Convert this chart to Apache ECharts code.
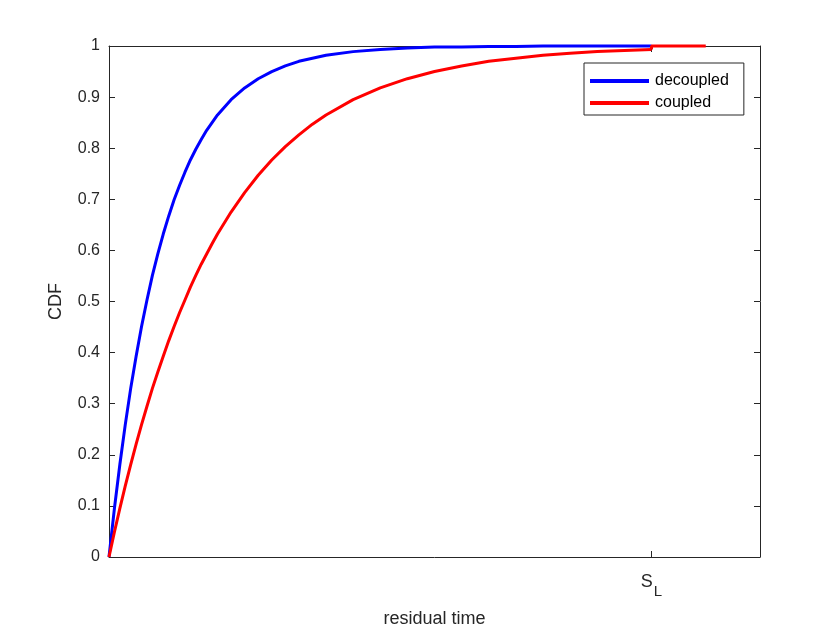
<!DOCTYPE html>
<html>
<head>
<meta charset="utf-8">
<script src="https://cdn.jsdelivr.net/npm/echarts@6/dist/echarts.min.js"></script>
<style>
  html, body { margin: 0; padding: 0; background: #fff; }
  #chart { width: 840px; height: 630px; }
</style>
</head>
<body>
<div id="chart"></div>
<script>
// residual time samples (S_L = 10 on this scale, axis ends at 12)
const tiempos = [0, 0.1, 0.2, 0.3, 0.4, 0.5, 0.6, 0.7, 0.8, 0.9, 1, 1.1, 1.2, 1.3, 1.4, 1.5, 1.6, 1.7, 1.8, 1.9, 2,
  2.25, 2.5, 2.75, 3, 3.25, 3.5, 3.75, 4, 4.5, 5, 5.5, 6, 6.5, 7, 7.5, 8, 8.5, 9, 9.5, 10];
const decoupled = [0, 0.095, 0.181, 0.259, 0.33, 0.393, 0.451, 0.503, 0.551, 0.593, 0.632, 0.667, 0.699, 0.727, 0.753, 0.777, 0.798, 0.817, 0.835, 0.85, 0.865,
  0.895, 0.918, 0.936, 0.95, 0.961, 0.97, 0.976, 0.982, 0.989, 0.993, 0.996, 0.998, 0.998, 0.999, 0.999, 1.0, 1.0, 1.0, 1.0, 1.0];
const coupled = [0, 0.049, 0.095, 0.139, 0.181, 0.221, 0.259, 0.295, 0.33, 0.362, 0.393, 0.423, 0.451, 0.478, 0.503, 0.528, 0.551, 0.573, 0.593, 0.613, 0.632,
  0.675, 0.713, 0.747, 0.777, 0.803, 0.826, 0.847, 0.865, 0.895, 0.918, 0.936, 0.95, 0.961, 0.97, 0.976, 0.982, 0.986, 0.989, 0.991, 0.993];
// jump to 1 at S_L, then flat
const coupledTailX = [10, 10, 11];
const coupledTailY = [0.993, 1.0, 1.0];
const xTicks = [10];
const xTickLabel = "{s|S}{sub|L}";

const ejeColor = "#262626";
const fuente = "Liberation Sans, Arial, sans-serif";

const pares = (xs, ys) => xs.map((x, i) => [x, ys[i]]);

const chart = echarts.init(document.getElementById("chart"));

chart.setOption({
  animation: false,
  grid: { left: 109, right: 80, top: 46, bottom: 73, containLabel: false, outerBoundsMode: "none" },
  legend: {
    data: ["decoupled", "coupled"],
    orient: "vertical",
    left: 584,
    top: 63,
    itemWidth: 59,
    itemHeight: 4,
    itemGap: 6,
    icon: "rect",
    padding: [10, 15, 4, 6],
    borderColor: ejeColor,
    borderWidth: 1,
    backgroundColor: "#fff",
    textStyle: { fontFamily: fuente, fontSize: 16, color: "#000", padding: [0, 0, 0, 1] }
  },
  xAxis: [
    {
      type: "value",
      min: 0,
      max: 12,
      position: "bottom",
      name: "residual time",
      nameLocation: "middle",
      nameGap: 53,
      nameTextStyle: { fontFamily: fuente, fontSize: 18, color: "#262626" },
      axisLine: { onZero: false, lineStyle: { color: ejeColor, width: 1 } },
      axisTick: { inside: true, length: 6, customValues: xTicks, lineStyle: { color: ejeColor } },
      axisLabel: {
        customValues: xTicks,
        formatter: () => xTickLabel,
        margin: 9,
        rich: {
          s: { fontFamily: fuente, fontSize: 18, color: "#262626" },
          sub: { fontFamily: fuente, fontSize: 15, color: "#262626", padding: [18, 0, 0, 1] }
        }
      },
      splitLine: { show: false }
    },
    {
      type: "value",
      min: 0,
      max: 12,
      position: "top",
      axisLine: { show: true, onZero: false, lineStyle: { color: ejeColor, width: 1 } },
      axisTick: { inside: true, length: 6, customValues: xTicks, lineStyle: { color: ejeColor } },
      axisLabel: { show: false },
      splitLine: { show: false }
    }
  ],
  yAxis: [
    {
      type: "value",
      min: 0,
      max: 1,
      interval: 0.1,
      position: "left",
      name: "CDF",
      nameLocation: "middle",
      nameGap: 44,
      nameRotate: 90,
      nameTextStyle: { fontFamily: fuente, fontSize: 18, color: "#262626" },
      axisLine: { show: true, onZero: false, lineStyle: { color: ejeColor, width: 1 } },
      axisTick: { show: true, inside: true, length: 6, lineStyle: { color: ejeColor } },
      axisLabel: {
        fontFamily: fuente,
        fontSize: 16,
        color: "#262626",
        margin: 9,
        formatter: (v) => (Math.round(v * 10) / 10).toString()
      },
      splitLine: { show: false }
    },
    {
      type: "value",
      min: 0,
      max: 1,
      interval: 0.1,
      position: "right",
      axisLine: { show: true, onZero: false, lineStyle: { color: ejeColor, width: 1 } },
      axisTick: { show: true, inside: true, length: 6, lineStyle: { color: ejeColor } },
      axisLabel: { show: false },
      splitLine: { show: false }
    }
  ],
  series: [
    {
      name: "decoupled",
      type: "line",
      data: pares(tiempos, decoupled),
      showSymbol: false,
      clip: false,
      lineStyle: { color: "#0000ff", width: 3, join: "round" },
      itemStyle: { color: "#0000ff" }
    },
    {
      name: "coupled",
      type: "line",
      data: pares(tiempos, coupled),
      showSymbol: false,
      clip: false,
      lineStyle: { color: "#ff0000", width: 3, join: "round" },
      itemStyle: { color: "#ff0000" }
    },
    {
      name: "coupled",
      type: "line",
      data: pares(coupledTailX, coupledTailY),
      showSymbol: false,
      clip: false,
      lineStyle: { color: "#ff0000", width: 3 },
      itemStyle: { color: "#ff0000" }
    }
  ]
});
</script>
</body>
</html>
